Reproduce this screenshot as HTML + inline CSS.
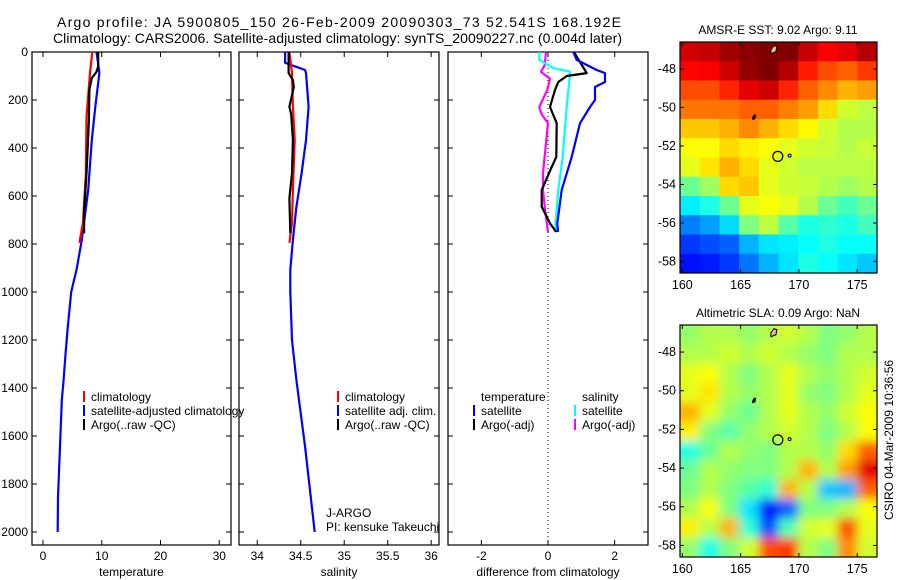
<!DOCTYPE html>
<html><head><meta charset="utf-8"><style>
html,body{margin:0;padding:0;background:#fff;}
svg{display:block;font-family:"Liberation Sans",sans-serif;}
</style></head><body>
<svg id="fig" width="900" height="580" viewBox="0 0 900 580">
<defs>
<filter id="blur" x="-10%" y="-10%" width="120%" height="120%"><feGaussianBlur stdDeviation="5"/></filter>
<clipPath id="clipSst"><rect x="680" y="42" width="197" height="231"/></clipPath>
<clipPath id="clipSla"><rect x="680" y="325" width="197" height="232"/></clipPath>
</defs>
<text x="57" y="27" font-size="14" textLength="564">Argo profile: JA 5900805_150 26-Feb-2009 20090303_73 52.541S 168.192E</text>
<text x="53" y="43" font-size="14" textLength="569">Climatology: CARS2006. Satellite-adjusted climatology: synTS_20090227.nc (0.004d later)</text>
<g id="plots"></g>
</svg>
<script>
// ---- depth profile data ----
const tClimDepth=[0,87,270,505,712,795];
const tClimVal=[8.4,8.0,7.4,7.3,6.8,6.2];
const tSatDepth=[0,87,228,367,575,783,908,1000,1150,1270,1367,1450,1645,1854,2000];
const tSatVal=[9.1,9.6,8.9,8.3,7.7,6.6,5.7,4.8,4.2,3.8,3.5,3.2,2.9,2.55,2.5];
const tArgoDepth=[0,60,83,108,158,297,505,670,755];
const tArgoVal=[9.4,9.4,9.1,8.3,7.9,7.8,7.4,7.0,7.0];
const sClimDepth=[0,87,228,367,575,712,795];
const sClimVal=[34.37,34.40,34.41,34.43,34.41,34.40,34.37];
const sSatDepth=[0,45,75,88,228,367,505,645,783,908,1000,1200,1367,1645,2000];
const sSatVal=[34.32,34.32,34.55,34.56,34.59,34.56,34.51,34.45,34.41,34.38,34.38,34.40,34.45,34.55,34.66];
const sArgoDepth=[0,88,117,146,228,260,367,505,610,755];
const sArgoVal=[34.36,34.36,34.41,34.42,34.37,34.39,34.41,34.40,34.37,34.38];
const dTSatDepth=[0,33,75,88,125,146,200,229,297,437,575,714,750];
const dTSatVal=[0.76,0.86,1.46,1.71,1.71,1.41,1.41,1.26,0.96,0.71,0.41,0.28,0.30];
const dTArgoDepth=[0,42,88,100,125,158,229,297,437,479,575,645,714,750];
const dTArgoVal=[0.78,0.96,1.16,0.56,0.31,0.21,0.06,0.26,0.25,0.11,-0.19,-0.19,0.06,0.25];
const dSSatDepth=[0,33,67,82,104,229,437,575,750];
const dSSatVal=[-0.26,-0.26,0.16,0.66,0.65,0.56,0.44,0.31,0.21];
const dSArgoDepth=[0,55,83,111,158,229,260,297,367,505,575,645,750];
const dSArgoVal=[-0.06,-0.1,-0.21,0.06,-0.02,-0.26,-0.19,0,-0.05,-0.15,-0.15,-0.1,0];
const depthTicks=[0,200,400,600,800,1000,1200,1400,1600,1800,2000];
const tempTicks=[0,10,20,30];
const salTicks=[34,34.5,35,35.5,36];
const diffTicks=[-2,0,2];
// ---- map data (jet colormap index 0..1), rows north->south, 1 deg each, 10 lon cols ----
const sstRows=[
[0.92,0.93,0.97,0.99,1,1,0.93,0.88,0.9,0.95],
[0.87,0.88,0.92,0.98,1,0.95,0.85,0.8,0.78,0.82],
[0.8,0.8,0.84,0.9,0.92,0.84,0.78,0.74,0.7,0.72],
[0.76,0.76,0.76,0.78,0.78,0.75,0.72,0.66,0.58,0.56],
[0.68,0.68,0.7,0.74,0.7,0.66,0.63,0.58,0.55,0.55],
[0.62,0.62,0.66,0.64,0.62,0.6,0.58,0.57,0.55,0.57],
[0.6,0.65,0.7,0.66,0.6,0.58,0.56,0.56,0.56,0.56],
[0.48,0.53,0.66,0.68,0.6,0.58,0.57,0.55,0.53,0.55],
[0.36,0.4,0.48,0.6,0.62,0.6,0.55,0.48,0.44,0.48],
[0.25,0.28,0.34,0.5,0.56,0.46,0.4,0.42,0.4,0.44],
[0.18,0.2,0.22,0.3,0.35,0.36,0.38,0.4,0.38,0.38],
[0.14,0.15,0.18,0.24,0.3,0.35,0.4,0.38,0.35,0.32]];
const slaRows=[
[0.52,0.55,0.55,0.52,0.55,0.58,0.55,0.5,0.52,0.55],
[0.55,0.55,0.58,0.55,0.58,0.55,0.52,0.5,0.55,0.55],
[0.6,0.62,0.55,0.5,0.55,0.6,0.55,0.52,0.55,0.58],
[0.6,0.65,0.55,0.52,0.55,0.6,0.52,0.5,0.55,0.6],
[0.7,0.6,0.52,0.48,0.55,0.6,0.55,0.52,0.58,0.62],
[0.64,0.5,0.46,0.52,0.55,0.58,0.55,0.5,0.55,0.62],
[0.4,0.48,0.55,0.52,0.5,0.55,0.55,0.52,0.66,0.78],
[0.48,0.55,0.52,0.5,0.5,0.55,0.7,0.55,0.72,0.9],
[0.5,0.55,0.5,0.46,0.42,0.7,0.55,0.32,0.3,0.78],
[0.55,0.62,0.5,0.35,0.14,0.22,0.5,0.5,0.55,0.62],
[0.64,0.55,0.7,0.42,0.2,0.45,0.58,0.6,0.8,0.6],
[0.52,0.4,0.5,0.58,0.8,0.82,0.55,0.5,0.74,0.58]];
const lonTicks=[160,165,170,175];
const latTicks=[-48,-50,-52,-54,-56,-58];
const argoLon=168.192, argoLat=-52.541;

const NS="http://www.w3.org/2000/svg";
const root=document.getElementById('plots');
function mk(tag,attrs,parent){const e=document.createElementNS(NS,tag);for(const k in attrs)e.setAttribute(k,attrs[k]);(parent||root).appendChild(e);return e;}
function txt(x,y,s,size,anchor,parent){const t=mk('text',{x:x,y:y,'font-size':size,'text-anchor':anchor||'start'},parent);t.textContent=s;return t;}

const Y0=52,Y1=545;
const yD=d=>Y0+d*0.24;
const panels=[
 {name:'temperature',x0:32,x1:231,vmin:-1.87,vmax:32.0,ticks:tempTicks,label:'temperature'},
 {name:'salinity',x0:239,x1:439,vmin:33.79,vmax:36.09,ticks:salTicks,label:'salinity'},
 {name:'difference',x0:448,x1:648,vmin:-3,vmax:3,ticks:diffTicks,label:'difference from climatology'}];
function xf(p){return v=>p.x0+(v-p.vmin)/(p.vmax-p.vmin)*(p.x1-p.x0);}

function drawProfile(p,depths,vals,color,name,g){
  const X=xf(p);
  const pts=depths.map((d,i)=>X(vals[i]).toFixed(1)+','+yD(d).toFixed(1)).join(' ');
  const l=mk('polyline',{points:pts,fill:'none',stroke:color,'stroke-width':2.2,'stroke-linejoin':'round'},g);
  
  
}

panels.forEach((p,pi)=>{
  const g=mk('g',{});
  
  
  const X=xf(p);
  mk('rect',{x:p.x0,y:Y0,width:p.x1-p.x0,height:Y1-Y0,fill:'#fff',stroke:'#000','stroke-width':1.2},g);
  depthTicks.forEach(d=>{
    const y=yD(d);
    mk('line',{x1:p.x0,x2:p.x0+5,y1:y,y2:y,stroke:'#000'},g);
    mk('line',{x1:p.x1-5,x2:p.x1,y1:y,y2:y,stroke:'#000'},g);
    if(pi===0){const t=txt(28,y+4,String(d),12,'end',g);}
  });
  p.ticks.forEach(v=>{
    const x=X(v);
    mk('line',{x1:x,x2:x,y1:Y1,y2:Y1-5,stroke:'#000'},g);
    mk('line',{x1:x,x2:x,y1:Y0,y2:Y0+5,stroke:'#000'},g);
    const t=txt(x,560,String(v),12,'middle',g);
    
    
  });
  const xl=txt((p.x0+p.x1)/2,576,p.label,12,'middle',g);
  
  
  if(pi===0){
    drawProfile(p,tSatDepth,tSatVal,'#0000ff','temp-satellite-line',g);
    drawProfile(p,tClimDepth,tClimVal,'#ff0000','temp-climatology-line',g);
    drawProfile(p,tArgoDepth,tArgoVal,'#000','temp-argo-line',g);
  }else if(pi===1){
    drawProfile(p,sSatDepth,sSatVal,'#0000ff','sal-satellite-line',g);
    drawProfile(p,sClimDepth,sClimVal,'#ff0000','sal-climatology-line',g);
    drawProfile(p,sArgoDepth,sArgoVal,'#000','sal-argo-line',g);
  }else{
    const x=X(0);
    mk('line',{x1:x,x2:x,y1:Y0,y2:Y1,stroke:'#000','stroke-dasharray':'1,3'},g);
    drawProfile(p,dSArgoDepth,dSArgoVal,'#ff00ff','sal-argo-diff-line',g);
    drawProfile(p,dSSatDepth,dSSatVal,'#00ffff','sal-satellite-diff-line',g);
    drawProfile(p,dTArgoDepth,dTArgoVal,'#000','temp-argo-diff-line',g);
    drawProfile(p,dTSatDepth,dTSatVal,'#0000ff','temp-satellite-diff-line',g);
  }
});

function legendEntry(x,y,color,label){
  const g=mk('g',{});
  
  
  if(color) mk('rect',{x:x,y:y-10,width:2,height:11,fill:color},g);
  txt(x+(color?8:0),y,label,12,'start',g);
}
legendEntry(83,401,'#ff0000','climatology');
legendEntry(83,415,'#0000ff','satellite-adjusted climatology');
legendEntry(83,429,'#000','Argo(..raw -QC)');
legendEntry(337,401,'#ff0000','climatology');
legendEntry(337,415,'#0000ff','satellite adj. clim.');
legendEntry(337,429,'#000','Argo(..raw -QC)');
legendEntry(481,401,null,'temperature');
legendEntry(473,415,'#0000ff','satellite');
legendEntry(473,429,'#000','Argo(-adj)');
legendEntry(582,401,null,'salinity');
legendEntry(574,415,'#00ffff','satellite');
legendEntry(574,429,'#ff00ff','Argo(-adj)');
const ja=txt(326,517,'J-ARGO',12);
const pi=txt(326,531,'PI: kensuke Takeuchi',12);

// ---- maps ----
function jet(v){
  v=Math.max(0,Math.min(1,v));
  const c=x=>Math.round(255*Math.max(0,Math.min(1,1.5-Math.abs(4*v-x))));
  return 'rgb('+c(3)+','+c(2)+','+c(1)+')';
}
const LON0=160-0.2,LON1=176.7,LAT0=-46.6,LAT1=-58.6;
function drawMap(name,top,bottom,rows,title,smooth){
  const g=mk('g',{});
  
  
  const x0=680,x1=877;
  const lx=lon=>x0+(lon-LON0)/(LON1-LON0)*(x1-x0);
  const ly=lat=>top+(lat-LAT0)/(LAT1-LAT0)*(bottom-top);
  const cg=mk('g',{'clip-path':'url(#'+(smooth?'clipSla':'clipSst')+')'},g);
  const inner=mk('g',smooth?{filter:'url(#blur)'}:{},cg);
  const nc=rows[0].length,dlon=(LON1-LON0)/nc;
  if(smooth) mk('rect',{x:x0-30,y:top-30,width:x1-x0+60,height:bottom-top+60,fill:jet(0.55)},inner);
  rows.forEach((row,r)=>row.forEach((v,c)=>{
    let ax=lx(LON0+c*dlon),bx=lx(LON0+(c+1)*dlon),ay=ly(LAT0-r),by=ly(LAT0-r-1);
    if(smooth){if(c===0)ax-=20;if(c===nc-1)bx+=20;if(r===0)ay-=20;if(r===rows.length-1)by+=20;}
    const cell=mk('rect',{x:ax,y:ay,width:bx-ax+0.5,height:by-ay+0.5,fill:jet(v)},inner);
    
    
  }));
  mk('path',{d:'M'+lx(166.0)+','+ly(-50.5)+' l2,-3 l2,1 l-1,4 l-3,1 z',fill:'#000'},g);
  mk('path',{d:'M'+lx(167.6)+','+ly(-47.0)+' l3,-4 l3,1 l-1,5 l-5,2 z',fill:'#f4b0a0',stroke:'#000','stroke-width':1},g);
  mk('circle',{cx:lx(169.2),cy:ly(-52.5),r:1.5,fill:'none',stroke:'#000'},g);
  const ac=mk('circle',{cx:lx(argoLon),cy:ly(argoLat),r:5,fill:'none',stroke:'#000','stroke-width':1.2},g);
  
  
  mk('rect',{x:x0,y:top,width:x1-x0,height:bottom-top,fill:'none',stroke:'#000','stroke-width':1.2},g);
  lonTicks.forEach(v=>{const x=lx(v);
    mk('line',{x1:x,x2:x,y1:bottom,y2:bottom-4,stroke:'#000'},g);
    mk('line',{x1:x,x2:x,y1:top,y2:top+4,stroke:'#000'},g);
    const t=txt(x,bottom+16,String(v),12.5,'middle',g);});
  latTicks.forEach(v=>{const y=ly(v);
    mk('line',{x1:x0,x2:x0+4,y1:y,y2:y,stroke:'#000'},g);
    mk('line',{x1:x1-4,x2:x1,y1:y,y2:y,stroke:'#000'},g);
    const t=txt(676,y+4,String(v),12.5,'end',g);});
  const tt=txt(778,top-8,title,12,'middle',g);
  
  
}
drawMap('sst-map',42,273,sstRows,'AMSR-E SST: 9.02 Argo: 9.11',false);
drawMap('sla-map',325,557,slaRows,'Altimetric SLA: 0.09 Argo: NaN',true);
const cs=txt(0,0,'CSIRO 04-Mar-2009 10:36:56',12,'middle');
cs.setAttribute('transform','translate(893,440) rotate(-90)');


</script>
</body></html>
